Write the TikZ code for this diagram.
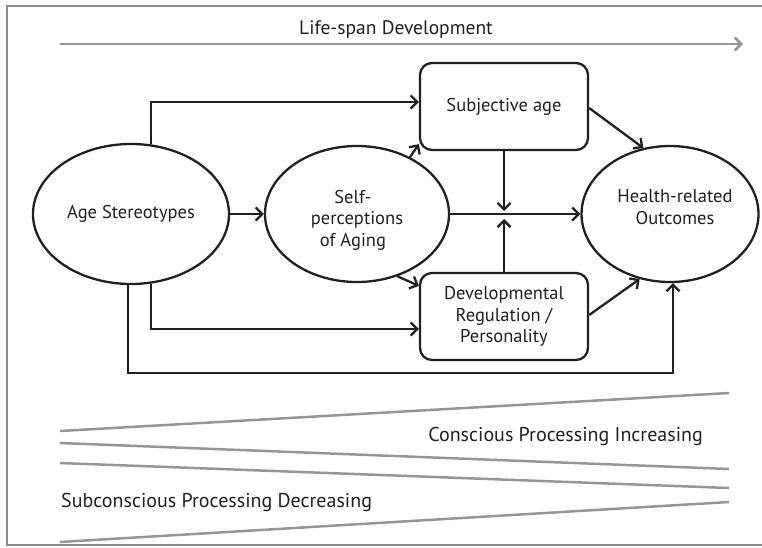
\documentclass[tikz,border=0pt]{standalone}
\usepackage{fontspec}
\setmainfont{PT Sans}
\usetikzlibrary{shapes.geometric,arrows.meta,calc}
\definecolor{ink}{RGB}{35,31,32}
\definecolor{lgray}{RGB}{150,150,150}
\definecolor{fgray}{RGB}{140,140,140}
\begin{document}
\begin{tikzpicture}[x=1pt,y=-1pt,
  font=\fontsize{18.5}{21.5}\selectfont, text=ink,
  oval/.style={ellipse,draw=ink,line width=2.3pt,inner sep=0pt,align=center},
  rbox/.style={rectangle,rounded corners=12pt,draw=ink,line width=2.3pt,minimum width=168pt,minimum height=87pt,align=center,inner sep=0pt},
  arr/.style={draw=ink,line width=2.3pt,-{Straight Barb[length=6.5pt,width=13pt,line width=2.3pt]}},
  garr/.style={draw=lgray,line width=2.5pt,-{Straight Barb[length=6.5pt,width=13pt,line width=2.5pt]}},
  gline/.style={draw=lgray,line width=2.5pt},
  lbl/.style={inner sep=0pt,align=center},
  big/.style={font=\fontsize{20}{23}\selectfont}]
\useasboundingbox (0,0) rectangle (762,547);
% frame
\draw[fgray,line width=1.5pt] (770,6) -- (7,6) -- (7,545) -- (770,545);

% top arrow
\node[lbl,font=\fontsize{19.5}{22}\selectfont] (life) at (396,30) {Life-span Development};
\coordinate (ls) at (60,44);
\coordinate (le) at (743,44);
\draw[garr] (ls) -- (le);

% nodes
\node[oval,minimum width=196pt,minimum height=140pt] (age) at (131,214) {Age Stereotypes};
\node[oval,minimum width=184pt,minimum height=136pt] (self) at (357,214) {\rule{0pt}{25pt}Self-\hspace*{8pt}\\perceptions\hspace*{8pt}\\of Aging\hspace*{8pt}};
\node[oval,minimum width=166pt,minimum height=136pt] (health) at (670,214) {\hspace*{10pt}Health-related\\\hspace*{10pt}Outcomes\\[-8pt]\mbox{}};
\node[rbox] (subj) at (504,106.5) {Subjective age};
\node[rbox] (dev) at (504,316.5) {Developmental\\Regulation /\\Personality};

% connectors
\draw[arr] (age.east) -- (self.west);
\draw[arr] (self.east) -- (health.west);
\draw[arr] (age.74.5) |- ([yshift=4.5pt]subj.west);
\draw[arr] (age.-74.5) |- ([yshift=-12.5pt]dev.west);
\coordinate (low) at (0,373);
\draw[arr] ([xshift=-3pt]age.south) -- ([xshift=-3pt]age.south |- low) -| ([xshift=3pt]health.south);
\coordinate (m) at (subj.south |- self.east);
\draw[arr] (subj.south) -- ([yshift=3pt]m);
\draw[arr] (dev.north) -- ([yshift=-5pt]m);
\draw[arr] (self.47.7) -- ([yshift=7pt]subj.south west);
\draw[arr] (self.-57.6) -- ([yshift=-14pt]dev.north west);
\draw[arr] ([yshift=-1.5pt]subj.east) -- (health.112);
\draw[arr] ([yshift=1.5pt]dev.east) -- (health.245);

% processing wedges
\draw[gline] (60,431) -- (729,393);
\draw[gline] (60,443) -- (729,469);
\draw[gline] (60,463) -- (729,488);
\draw[gline] (60,542) -- (729,502);
\node[lbl,big,anchor=east] (cons) at (703,436) {Conscious Processing Increasing};
\node[lbl,big,anchor=west] (subc) at (61,502) {Subconscious Processing Decreasing};
\end{tikzpicture}
\end{document}
